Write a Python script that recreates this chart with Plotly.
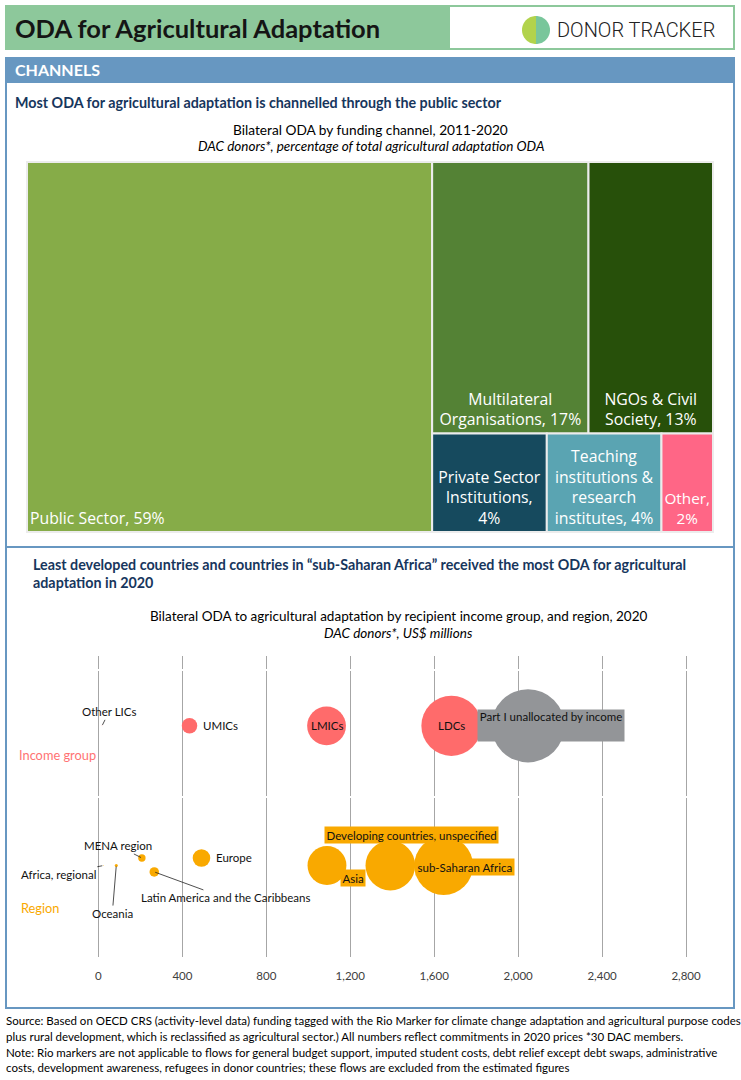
import numpy as np
import plotly.graph_objects as go

W, H = 741, 1080

# ---------------- DATA ----------------
# Treemap: bilateral ODA by funding channel, 2011-2020 (% of total)
channel_names = ["Public Sector", "Multilateral Organisations", "NGOs & Civil Society",
                 "Private Sector Institutions", "Teaching institutions & research institutes", "Other"]
channel_text = ["Public Sector, ", "Multilateral<br>Organisations, ", "NGOs & Civil<br>Society, ",
                "Private Sector<br>Institutions,<br>", "Teaching<br>institutions &<br>research<br>institutes, ",
                "Other,<br>"]
channel_share = [59.0, 16.7, 13.3, 4.45, 4.45, 2.0]
channel_colors = ["#86ac48", "#548235", "#27500a", "#164a5e", "#5aa4b2", "#ff6686"]

# Bubble chart: income groups (US$ millions, 2020)
income_groups = ["Other LICs", "UMICs", "LMICs", "LDCs", "Part I unallocated by income"]
income_values = [17, 434, 1087, 1682, 2047]
income_y = [2.56, 2.56, 2.56, 2.56, 2.56]
income_colors = ["#ff6b6b", "#ff6b6b", "#ff6b6b", "#ff6b6b", "#939598"]

# Bubble chart: regions (US$ millions, 2020)
regions = ["Africa, regional", "Oceania", "MENA region", "Latin America and the Caribbeans",
           "Europe", "Asia", "Developing countries, unspecified", "sub-Saharan Africa"]
region_values = [23, 85, 207, 266, 491, 1089, 1391, 1645]
region_y = [1.46, 1.46, 1.52, 1.41, 1.52, 1.46, 1.46, 1.46]
region_color = "#f9a900"

x_tick_vals = [0, 400, 800, 1200, 1600, 2000, 2400, 2800]
y_break_vals = [2, 3]

# ---------------- STYLE ----------------
CAL = "Lato"
SEG = "Open Sans"
BLUE = "#6797c1"
GREEN = "#8dc89b"
NAVY = "#17365d"
GRAY = "#939598"


def px_x(x):
    return x / W


def px_y(y):
    return 1 - y / H


fig = go.Figure()

# ---- Treemap (two identical layers so one label can be left-aligned) ----
tm_domain = dict(x=[px_x(27), px_x(713)], y=[px_y(532), px_y(162)])
texts = [f"{t}{round(v)}%" for t, v in zip(channel_text, channel_share)]
common = dict(labels=channel_names, parents=[""] * len(channel_names), values=channel_share,
              sort=False, domain=tm_domain, textinfo="text", texttemplate="%{text}",
              tiling=dict(squarifyratio=1.618, pad=0), pathbar=dict(visible=False),
              textfont=dict(family=SEG, size=15.8, color="white"), hoverinfo="skip")
pad0 = dict(t=0, l=0, r=0, b=0)
fig.add_trace(go.Treemap(
    text=[texts[0]] + [""] * (len(texts) - 1),
    textposition="bottom left",
    marker=dict(colors=channel_colors, line=dict(color="#ececec", width=2), pad=pad0),
    **common))
fig.add_trace(go.Treemap(
    text=[""] + texts[1:],
    textposition="bottom center",
    marker=dict(colors=["rgba(0,0,0,0)"] + channel_colors[1:], line=dict(color="#ececec", width=2),
                pad=pad0),
    **common))

# ---- Bubble chart ----
SIZEREF = 28.0
fig.add_trace(go.Scatter(x=income_values, y=income_y, mode="markers",
                         marker=dict(size=income_values, sizemode="diameter", sizeref=SIZEREF,
                                     color=income_colors, opacity=1, line=dict(width=0)),
                         hoverinfo="skip", showlegend=False))
fig.add_trace(go.Scatter(x=region_values, y=region_y, mode="markers",
                         marker=dict(size=region_values, sizemode="diameter", sizeref=SIZEREF,
                                     color=region_color, opacity=1, line=dict(width=0)),
                         hoverinfo="skip", showlegend=False))

fig.update_xaxes(domain=[px_x(14.5), px_x(717.5)], range=[-400, 2950], tickvals=x_tick_vals,
                 tickformat=",d", showgrid=True, gridcolor="#a6a6a6", gridwidth=1, zeroline=False,
                 showline=False, ticks="", ticklabelstandoff=10,
                 tickfont=dict(family=CAL, size=11.5, color="#404040"), fixedrange=True)
fig.update_yaxes(domain=[px_y(957), px_y(656)], range=[0.74, 3.11], tickvals=y_break_vals,
                 showticklabels=False, showgrid=True, gridcolor="white", gridwidth=2,
                 zeroline=False, showline=False, ticks="", fixedrange=True)

# ---- bubble labels ----
label_style = {
    "Other LICs": dict(kind="arrow", ax=7, ay=-14),
    "UMICs": dict(kind="right", dx=11),
    "LMICs": dict(kind="center"),
    "LDCs": dict(kind="center"),
    "Part I unallocated by income": dict(kind="box", dx=23, dy=0, bg=GRAY, w=146, h=31, valign="top"),
    "Africa, regional": dict(kind="arrow", ax=-45, ay=9),
    "Oceania": dict(kind="arrow", ax=-4, ay=48),
    "MENA region": dict(kind="arrow", ax=-24, ay=-12),
    "Latin America and the Caribbeans": dict(kind="arrow", ax=71, ay=26),
    "Europe": dict(kind="right", dx=13),
    "Asia": dict(kind="box", dx=26, dy=-12.5, bg=region_color),
    "Developing countries, unspecified": dict(kind="box", dx=21, dy=31, bg=region_color),
    "sub-Saharan Africa": dict(kind="box", dx=21, dy=-1.5, bg=region_color),
}
lab_font = dict(family=CAL, size=11.5, color="#111111")
annotations = []
for names, vals, ys in [(income_groups, income_values, income_y), (regions, region_values, region_y)]:
    for n, v, yv in zip(names, vals, ys):
        st = label_style[n]
        a = dict(x=v, y=yv, xref="x", yref="y", text=n, font=lab_font, showarrow=False)
        if st["kind"] == "arrow":
            a.update(showarrow=True, arrowhead=0, arrowwidth=0.8, arrowcolor="#222222",
                     ax=st["ax"], ay=st["ay"], standoff=1)
        elif st["kind"] == "right":
            a.update(xanchor="left", xshift=st["dx"])
        elif st["kind"] == "box":
            a.update(xshift=st["dx"], yshift=st["dy"], bgcolor=st["bg"], borderpad=1.5)
            if "w" in st:
                a.update(width=st["w"], height=st["h"], valign=st.get("valign", "middle"), borderpad=0)
        annotations.append(a)

# ---- page texts ----
def ptxt(text, x, y, size, color="black", bold=False, italic=False, xanchor="left", family=CAL,
         weight=None):
    f = dict(family=family, size=size, color=color)
    if bold:
        f["weight"] = "bold"
    if weight is not None:
        f["weight"] = weight
    if italic:
        f["style"] = "italic"
    return dict(text=text, x=px_x(x), y=px_y(y), xref="paper", yref="paper", xanchor=xanchor,
                yanchor="middle", showarrow=False, font=f)

annotations += [
    ptxt("ODA for Agricultural Adaptation", 13, 28, 25.5, "#151515", bold=True),
    ptxt("DONOR TRACKER", 555, 30, 20, "#222222", family="Roboto", weight=300),
    ptxt("CHANNELS", 13, 70, 16, "white", bold=True),
    ptxt("Most ODA for agricultural adaptation is channelled through the public sector", 13, 103, 14.3,
         NAVY, bold=True),
    ptxt("Bilateral ODA by funding channel, 2011-2020", 371, 129, 13.7, xanchor="center"),
    ptxt("DAC donors*, percentage of total agricultural adaptation ODA", 371, 146, 13.5,
         italic=True, xanchor="center"),
    ptxt("Least developed countries and countries in \u201csub-Saharan Africa\u201d received the most ODA for agricultural",
         31, 564, 14.3, NAVY, bold=True),
    ptxt("adaptation in 2020", 31, 582, 14.3, NAVY, bold=True),
    ptxt("Bilateral ODA to agricultural adaptation by recipient income group, and region, 2020", 398, 616,
         13.5, xanchor="center"),
    ptxt("DAC donors*, US$ millions", 398, 633, 13.5, italic=True, xanchor="center"),
    ptxt("Income group", 17, 755, 12.8, "#ff7373"),
    ptxt("Region", 19, 908, 12.8, "#f9a900"),
    ptxt("Source: Based on OECD CRS (activity-level data) funding tagged with the Rio Marker for climate change adaptation and agricultural purpose codes",
         4, 1020, 11.5),
    ptxt("plus rural development, which is reclassified as agricultural sector.) All numbers reflect commitments in 2020 prices *30 DAC members.",
         4, 1036, 11.5),
    ptxt("Note: Rio markers are not applicable to flows for general budget support, imputed student costs, debt relief except debt swaps, administrative",
         4, 1052, 11.5),
    ptxt("costs, development awareness, refugees in donor countries; these flows are excluded from the estimated figures",
         4, 1067, 11.5),
]

# ---- decorative shapes ----
def rect(x0, y0, x1, y1, fill=None, line=None, lw=0, layer="below"):
    return dict(type="rect", xref="paper", yref="paper", x0=px_x(x0), x1=px_x(x1), y0=px_y(y1),
                y1=px_y(y0), fillcolor=fill if fill else "rgba(0,0,0,0)",
                line=dict(color=line if line else "rgba(0,0,0,0)", width=lw), layer=layer)

def half_circle(cx, cy, r, a0, a1, color):
    ang = np.linspace(np.radians(a0), np.radians(a1), 40)
    pts = [(px_x(cx + r * np.cos(a)), px_y(cy - r * np.sin(a))) for a in ang]
    path = "M " + " L ".join(f"{x:.5f},{y:.5f}" for x, y in pts) + " Z"
    return dict(type="path", xref="paper", yref="paper", path=path, fillcolor=color,
                line=dict(width=0), layer="above")

shapes = [
    rect(5, 5, 735, 50, fill=GREEN),
    rect(450, 7, 733, 48, fill="white"),
    rect(5, 57, 735, 82, fill=BLUE),
    rect(6, 82, 734, 1008, line=BLUE, lw=2),
    dict(type="line", xref="paper", yref="paper", x0=px_x(6), x1=px_x(734), y0=px_y(547), y1=px_y(547),
         line=dict(color=BLUE, width=2)),
    half_circle(536, 30, 14, 90, 270, "#b2d34c"),
    half_circle(536, 30, 14, -90, 90, "#79c69b"),
]

fig.update_layout(width=W, height=H, margin=dict(l=0, r=0, t=0, b=0), paper_bgcolor="white",
                  plot_bgcolor="rgba(0,0,0,0)", showlegend=False, annotations=annotations,
                  shapes=shapes, font=dict(family=CAL))

fig.write_html("out.html", config={"displayModeBar": False},
               post_script="document.body.style.margin='0';document.body.style.padding='0';")
